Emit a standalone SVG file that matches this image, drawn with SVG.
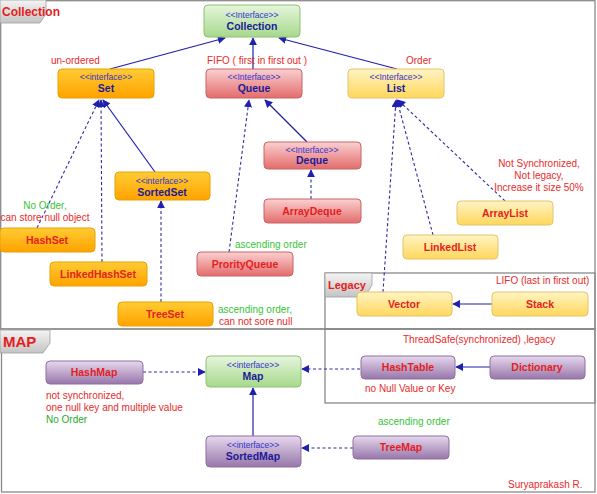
<svg xmlns="http://www.w3.org/2000/svg" width="597" height="494" viewBox="0 0 597 494">
<defs>
<linearGradient id="gGreen" x1="0" y1="0" x2="0" y2="1"><stop offset="0" stop-color="#e6f5dc"/><stop offset="1" stop-color="#a6d98c"/></linearGradient>
<linearGradient id="gOrange" x1="0" y1="0" x2="0" y2="1"><stop offset="0" stop-color="#ffcc33"/><stop offset="1" stop-color="#ffa200"/></linearGradient>
<linearGradient id="gPink" x1="0" y1="0" x2="0" y2="1"><stop offset="0" stop-color="#fad0d0"/><stop offset="1" stop-color="#e46c6c"/></linearGradient>
<linearGradient id="gYellow" x1="0" y1="0" x2="0" y2="1"><stop offset="0" stop-color="#fff4c4"/><stop offset="1" stop-color="#ffd75c"/></linearGradient>
<linearGradient id="gPurple" x1="0" y1="0" x2="0" y2="1"><stop offset="0" stop-color="#e6d8ee"/><stop offset="1" stop-color="#9876aa"/></linearGradient>
<linearGradient id="gTab" x1="0" y1="0" x2="0" y2="1"><stop offset="0" stop-color="#f4f4f4"/><stop offset="1" stop-color="#c4c4c4"/></linearGradient>
<marker id="arr" viewBox="0 0 10 10" refX="9" refY="5" markerWidth="8" markerHeight="8" markerUnits="userSpaceOnUse" orient="auto"><path d="M0,0 L10,5 L0,10 Z" fill="#1f1fb0"/></marker>
</defs>
<style>
text{font-family:"Liberation Sans",Arial,sans-serif}
.frame{fill:none;stroke:#8a8a8a;stroke-width:1.3}
.tab{fill:url(#gTab);stroke:#a0a0a0;stroke-width:0.8}
.tabt{font-size:12px;font-weight:bold;fill:#e61c1c}
.green{fill:url(#gGreen);stroke:#8dc173}
.orange{fill:url(#gOrange);stroke:#e6a200}
.pink{fill:url(#gPink);stroke:#c86464}
.yellow{fill:url(#gYellow);stroke:#e2c468}
.purple{fill:url(#gPurple);stroke:#8e70a0}
.st{font-size:8.5px;fill:#3434d0;text-anchor:middle}
.nm{font-size:10.5px;font-weight:bold;fill:#1c1c96;text-anchor:middle}
.cn{font-size:10.5px;font-weight:bold;fill:#e41e1e;text-anchor:middle}
.lr{font-size:10px;fill:#e82a2a}
.lg{font-size:10px;fill:#36c436}
.solid{fill:none;stroke:#1f1fb0;stroke-width:1.2;marker-end:url(#arr)}
.dash{fill:none;stroke:#2a2aa8;stroke-width:1.1;stroke-dasharray:3,2.5;marker-end:url(#arr)}
</style>
<rect width="597" height="494" fill="#ffffff"/>

<!-- frames -->
<g id="frames">
<rect class="frame" x="0.7" y="0.7" width="594.3" height="328.3"/>
<rect class="frame" x="1.5" y="329" width="593.5" height="163"/>
<rect class="frame" x="325" y="273" width="270" height="56"/>
<rect class="frame" x="325" y="329" width="270" height="74"/>
<polygon class="tab" points="0,0 46,0 46,14 40,23 0,23"/>
<text class="tabt" x="2" y="16" font-size="12">Collection</text>
<polygon class="tab" points="0,330 50,330 50,343 43,353 0,353"/>
<text class="tabt" x="3" y="347" style="font-size:15px">MAP</text>
<polygon class="tab" points="325,273 372,273 372,285 365,297 325,297"/>
<text class="tabt" x="328" y="289" style="font-size:11px">Legacy</text>
</g>

<!-- connectors -->
<g id="connectors">
<path class="solid" d="M110,69 L225,38"/>
<path class="solid" d="M253,69 L253,38"/>
<path class="solid" d="M397,69 L279,38"/>
<path class="dash" d="M37,228 L99,100"/>
<path class="dash" d="M102,262 L101,100"/>
<path class="solid" d="M155,172 L103,100"/>
<path class="dash" d="M161,302 L161,201"/>
<path class="dash" d="M229,252 L249,100"/>
<path class="solid" d="M307,142 L265,100"/>
<path class="dash" d="M311,199 L311,170"/>
<path class="dash" d="M505,201 L398,100"/>
<path class="dash" d="M433,235 L397,100"/>
<path class="dash" d="M383,292 L396,100"/>
<path class="solid" d="M492,304 L453,304"/>
<path class="dash" d="M143,372 L205,372"/>
<path class="dash" d="M360,369 L302,369"/>
<path class="solid" d="M490,367 L456,367"/>
<path class="solid" d="M253,436 L253,388"/>
<path class="dash" d="M353,448 L302,448"/>
</g>

<!-- Collection section nodes -->
<g id="collection"><rect class="green" x="204" y="5" width="96" height="32" rx="4"/><text class="st" x="252" y="18">&lt;&lt;Interface&gt;&gt;</text><text class="nm" x="252" y="30">Collection</text></g>
<g id="set"><rect class="orange" x="58" y="69" width="96" height="29" rx="4"/><text class="st" x="106" y="80">&lt;&lt;interface&gt;&gt;</text><text class="nm" x="106" y="92">Set</text></g>
<g id="queue"><rect class="pink" x="206" y="69" width="96" height="29" rx="4"/><text class="st" x="254" y="80">&lt;&lt;Interface&gt;&gt;</text><text class="nm" x="254" y="92">Queue</text></g>
<g id="list"><rect class="yellow" x="348" y="69" width="96" height="29" rx="4"/><text class="st" x="396" y="80">&lt;&lt;Interface&gt;&gt;</text><text class="nm" x="396" y="92">List</text></g>
<g id="sortedset"><rect class="orange" x="115" y="172" width="95" height="28" rx="4"/><text class="st" x="162" y="184">&lt;&lt;interface&gt;&gt;</text><text class="nm" x="162" y="196">SortedSet</text></g>
<g id="hashset"><rect class="orange" x="0" y="228" width="95" height="24" rx="4"/><text class="cn" x="47" y="244">HashSet</text></g>
<g id="linkedhashset"><rect class="orange" x="50" y="262" width="97" height="24" rx="4"/><text class="cn" x="98" y="278">LinkedHashSet</text></g>
<g id="treeset"><rect class="orange" x="118" y="302" width="95" height="24" rx="4"/><text class="cn" x="165" y="318">TreeSet</text></g>
<g id="deque"><rect class="pink" x="264" y="142" width="97" height="27" rx="4"/><text class="st" x="312" y="153">&lt;&lt;Interface&gt;&gt;</text><text class="nm" x="312" y="164">Deque</text></g>
<g id="arraydeque"><rect class="pink" x="264" y="199" width="97" height="24" rx="4"/><text class="cn" x="312" y="215">ArrayDeque</text></g>
<g id="prorityqueue"><rect class="pink" x="197" y="252" width="96" height="24" rx="4"/><text class="cn" x="245" y="268">ProrityQueue</text></g>
<g id="arraylist"><rect class="yellow" x="457" y="201" width="96" height="24" rx="4"/><text class="cn" x="505" y="217">ArrayList</text></g>
<g id="linkedlist"><rect class="yellow" x="403" y="235" width="95" height="24" rx="4"/><text class="cn" x="450" y="251">LinkedList</text></g>
<g id="vector"><rect class="yellow" x="357" y="292" width="95" height="24" rx="4"/><text class="cn" x="404" y="308">Vector</text></g>
<g id="stack"><rect class="yellow" x="492" y="292" width="96" height="24" rx="4"/><text class="cn" x="540" y="308">Stack</text></g>

<!-- Map section nodes -->
<g id="map"><rect class="green" x="206" y="356" width="95" height="31" rx="4"/><text class="st" x="253" y="368">&lt;&lt;interface&gt;&gt;</text><text class="nm" x="253" y="380">Map</text></g>
<g id="hashmap"><rect class="purple" x="46" y="361" width="97" height="23" rx="4"/><text class="cn" x="94" y="376">HashMap</text></g>
<g id="sortedmap"><rect class="purple" x="206" y="436" width="95" height="31" rx="4"/><text class="st" x="253" y="448">&lt;&lt;interface&gt;&gt;</text><text class="nm" x="253" y="460">SortedMap</text></g>
<g id="hashtable"><rect class="purple" x="361" y="356" width="94" height="23" rx="4"/><text class="cn" x="408" y="371">HashTable</text></g>
<g id="dictionary"><rect class="purple" x="490" y="356" width="95" height="23" rx="4"/><text class="cn" x="537" y="371">Dictionary</text></g>
<g id="treemap"><rect class="purple" x="353" y="436" width="96" height="23" rx="4"/><text class="cn" x="401" y="451">TreeMap</text></g>

<!-- labels -->
<g id="labels">
<text class="lr" x="51" y="64">un-ordered</text>
<text class="lr" x="207" y="64">FIFO ( first in first out )</text>
<text class="lr" x="406" y="64">Order</text>
<text class="lg" x="45" y="209" text-anchor="middle">No Order,</text>
<text class="lr" x="45" y="221" text-anchor="middle">can store null object</text>
<text class="lg" x="235" y="248">ascending order</text>
<text class="lg" x="218" y="313">ascending order,</text>
<text class="lr" x="219" y="325">can not sore null</text>
<text class="lr" x="539" y="167" text-anchor="middle">Not Synchronized,</text>
<text class="lr" x="539" y="179" text-anchor="middle">Not legacy,</text>
<text class="lr" x="539" y="191" text-anchor="middle">Increase it size 50%</text>
<text class="lr" x="496" y="284">LIFO (last in first out)</text>
<text class="lr" x="403" y="343">ThreadSafe(synchronized) ,legacy</text>
<text class="lr" x="365" y="392">no Null Value or Key</text>
<text class="lr" x="46" y="399">not synchronized,</text>
<text class="lr" x="46" y="411">one null key and multiple value</text>
<text class="lg" x="46" y="423" style="fill:#2aa82a">No Order</text>
<text class="lg" x="378" y="425">ascending order</text>
<text class="lr" x="508" y="488">Suryaprakash R.</text>
</g>
</svg>
